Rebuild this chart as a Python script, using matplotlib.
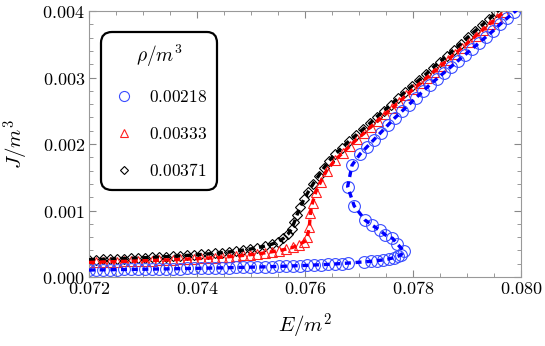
import matplotlib
matplotlib.use("Agg")
import matplotlib.pyplot as plt
from matplotlib.ticker import MultipleLocator, FormatStrFormatter

plt.rcParams['mathtext.fontset'] = 'cm'
plt.rcParams['font.family'] = ['DejaVu Serif']

labels = ["0.00218", "0.00333", "0.00371"]

E_blue = [0.07200, 0.07213, 0.07226, 0.07239, 0.07252, 0.07265, 0.07278, 0.07291, 0.07304, 0.07317,
          0.07330, 0.07343, 0.07356, 0.07369, 0.07382, 0.07395, 0.07408, 0.07421, 0.07434, 0.07447,
          0.07460, 0.07473, 0.07486, 0.07499, 0.07512, 0.07525, 0.07538, 0.07551, 0.07564, 0.07577,
          0.07590, 0.07603, 0.07616, 0.07629, 0.07642, 0.07655, 0.07668, 0.07680, 0.07710, 0.07722,
          0.07734, 0.07745, 0.07755, 0.07764, 0.07772, 0.07778, 0.07783, 0.07771, 0.07762, 0.07749,
          0.07738, 0.07724, 0.07711, 0.07691, 0.07679, 0.07687, 0.07702, 0.07714, 0.07727, 0.07740,
          0.07753, 0.07766, 0.07779, 0.07792, 0.07805, 0.07818, 0.07831, 0.07844, 0.07857, 0.07870,
          0.07883, 0.07896, 0.07909, 0.07922, 0.07935, 0.07948, 0.07961, 0.07974, 0.07987, 0.08000]
J_blue = [0.000105, 0.000107, 0.000108, 0.000110, 0.000111, 0.000113, 0.000114, 0.000116, 0.000117, 0.000119,
          0.000121, 0.000122, 0.000124, 0.000126, 0.000128, 0.000130, 0.000132, 0.000134, 0.000136, 0.000138,
          0.000140, 0.000143, 0.000145, 0.000148, 0.000150, 0.000153, 0.000156, 0.000160, 0.000163, 0.000167,
          0.000171, 0.000175, 0.000180, 0.000185, 0.000190, 0.000196, 0.000203, 0.000210, 0.000228, 0.000236,
          0.000246, 0.000258, 0.000272, 0.000290, 0.000312, 0.000335, 0.000390, 0.000496, 0.000582, 0.000632,
          0.000707, 0.000780, 0.000857, 0.001070, 0.001360, 0.001680, 0.001850, 0.001950, 0.002060, 0.002170,
          0.002280, 0.002390, 0.002490, 0.002590, 0.002690, 0.002790, 0.002890, 0.002980, 0.003070, 0.003160,
          0.003250, 0.003340, 0.003430, 0.003520, 0.003610, 0.003700, 0.003800, 0.003890, 0.003980, 0.004070]

E_red = [0.07200, 0.07213, 0.07226, 0.07239, 0.07252, 0.07265, 0.07278, 0.07291, 0.07304, 0.07317,
         0.07330, 0.07343, 0.07356, 0.07369, 0.07382, 0.07395, 0.07408, 0.07421, 0.07434, 0.07447,
         0.07460, 0.07473, 0.07486, 0.07499, 0.07512, 0.07525, 0.07538, 0.07551, 0.07564, 0.07577,
         0.07588, 0.07598, 0.07604, 0.07608, 0.07610, 0.07614, 0.07620, 0.07629, 0.07640, 0.07656,
         0.07670, 0.07683, 0.07696, 0.07709, 0.07722, 0.07735, 0.07748, 0.07761, 0.07774, 0.07787,
         0.07800, 0.07813, 0.07826, 0.07839, 0.07852, 0.07865, 0.07878, 0.07891, 0.07904, 0.07917,
         0.07930, 0.07943, 0.07956, 0.07969, 0.07982]
J_red = [0.000220, 0.000223, 0.000226, 0.000229, 0.000232, 0.000235, 0.000238, 0.000241, 0.000245, 0.000248,
         0.000252, 0.000256, 0.000260, 0.000264, 0.000269, 0.000274, 0.000279, 0.000285, 0.000291, 0.000298,
         0.000306, 0.000315, 0.000325, 0.000336, 0.000348, 0.000362, 0.000378, 0.000396, 0.000418, 0.000445,
         0.000480, 0.000530, 0.000600, 0.000750, 0.000960, 0.001120, 0.001280, 0.001430, 0.001600, 0.001760,
         0.001870, 0.001970, 0.002070, 0.002160, 0.002260, 0.002350, 0.002450, 0.002540, 0.002630, 0.002730,
         0.002820, 0.002910, 0.003000, 0.003090, 0.003180, 0.003270, 0.003360, 0.003450, 0.003540, 0.003630,
         0.003720, 0.003810, 0.003900, 0.003990, 0.004080]

E_black = [0.07200, 0.07213, 0.07226, 0.07239, 0.07252, 0.07265, 0.07278, 0.07291, 0.07304, 0.07317,
           0.07330, 0.07343, 0.07356, 0.07369, 0.07382, 0.07395, 0.07408, 0.07421, 0.07434, 0.07447,
           0.07460, 0.07473, 0.07486, 0.07499, 0.07512, 0.07525, 0.07538, 0.07550, 0.07560, 0.07568,
           0.07575, 0.07580, 0.07585, 0.07591, 0.07598, 0.07606, 0.07615, 0.07625, 0.07635, 0.07645,
           0.07656, 0.07668, 0.07681, 0.07694, 0.07707, 0.07720, 0.07733, 0.07746, 0.07759, 0.07772,
           0.07785, 0.07798, 0.07811, 0.07824, 0.07837, 0.07850, 0.07863, 0.07876, 0.07889, 0.07902,
           0.07915, 0.07928, 0.07941, 0.07954, 0.07967]
J_black = [0.000260, 0.000263, 0.000267, 0.000270, 0.000274, 0.000278, 0.000282, 0.000286, 0.000291, 0.000296,
           0.000301, 0.000306, 0.000312, 0.000318, 0.000325, 0.000332, 0.000340, 0.000348, 0.000357, 0.000367,
           0.000378, 0.000391, 0.000405, 0.000421, 0.000440, 0.000463, 0.000492, 0.000530, 0.000580, 0.000640,
           0.000720, 0.000820, 0.000930, 0.001050, 0.001170, 0.001280, 0.001400, 0.001520, 0.001640, 0.001750,
           0.001850, 0.001940, 0.002040, 0.002130, 0.002220, 0.002310, 0.002410, 0.002500, 0.002590, 0.002690,
           0.002780, 0.002870, 0.002960, 0.003050, 0.003150, 0.003240, 0.003330, 0.003420, 0.003510, 0.003610,
           0.003700, 0.003790, 0.003880, 0.003980, 0.004070]

fig = plt.figure(figsize=(5.45, 3.46), dpi=100)
ax = fig.add_axes([0.1633, 0.1994, 0.7927, 0.7688])

series = [
    (E_blue, J_blue, 'o', '#0000ff', '#3a4dff', 8.5, labels[0]),
    (E_red, J_red, '^', '#ff0000', '#ff2020', 7.5, labels[1]),
    (E_black, J_black, 'D', '#000000', '#000000', 5.0, labels[2]),
]
for E, J, mk, lc, mc, ms, lab in series[::-1]:
    ax.plot(E, J, linestyle='none', marker=mk, markersize=ms, markerfacecolor='none',
            markeredgecolor=mc, markeredgewidth=0.8, label='$' + lab + '$', zorder=2)
for E, J, mk, lc, mc, ms, lab in series[::-1]:
    ax.plot(E, J, color=lc, linewidth=2.4, dashes=(1.8, 1.4), zorder=3)

ax.set_xlim(0.072, 0.080)
ax.set_ylim(0.0, 0.004)
ax.xaxis.set_major_locator(MultipleLocator(0.002))
ax.xaxis.set_minor_locator(MultipleLocator(0.0005))
ax.yaxis.set_major_locator(MultipleLocator(0.001))
ax.yaxis.set_minor_locator(MultipleLocator(0.0002))
ax.xaxis.set_major_formatter(FormatStrFormatter('$%.3f$'))
ax.yaxis.set_major_formatter(FormatStrFormatter('$%.3f$'))
ax.tick_params(which='both', direction='in', top=True, right=True, color='#888888', labelsize=13)
ax.tick_params(which='major', length=5, width=0.8)
ax.tick_params(which='minor', length=3, width=0.6)
ax.tick_params(axis='x', pad=2)
ax.tick_params(axis='y', pad=3)
for s in ax.spines.values():
    s.set_color('#999999')
    s.set_linewidth(0.8)

ax.set_xlabel('$E/m^2$', fontsize=15, labelpad=10)
ax.set_ylabel('$J/m^3$', fontsize=15, labelpad=8)

handles, labs = ax.get_legend_handles_labels()
order = [2, 1, 0]
leg = ax.legend([handles[i] for i in order], [labs[i] for i in order],
                title=r'$\rho/m^3$', loc='upper left', bbox_to_anchor=(0.028, 0.92),
                fontsize=12.5, title_fontsize=14, frameon=True, fancybox=True,
                labelspacing=1.15, handletextpad=0.75, borderpad=0.6, handlelength=1.4,
                borderaxespad=0.0, markerscale=0.85)
fr = leg.get_frame()
fr.set_edgecolor('black')
fr.set_linewidth(1.6)
fr.set_alpha(1.0)
fr.set_boxstyle('round,pad=0,rounding_size=0.6')

fig.savefig('out.png', dpi=100)
